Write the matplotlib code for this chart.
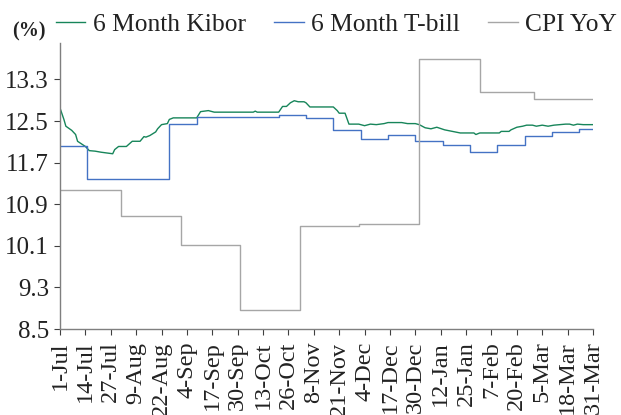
import pandas as pd
import matplotlib.pyplot as plt
import matplotlib.dates as mdates

# 6 month Kibor (%)
kibor_dates = ['2018-07-01', '2018-07-03', '2018-07-04', '2018-07-07', '2018-07-09', '2018-07-10',
               '2018-07-12', '2018-07-14', '2018-07-16', '2018-07-19', '2018-07-22', '2018-07-26',
               '2018-07-28', '2018-07-29', '2018-07-31', '2018-08-04', '2018-08-07', '2018-08-11',
               '2018-08-13', '2018-08-14', '2018-08-16', '2018-08-19', '2018-08-20', '2018-08-22',
               '2018-08-25', '2018-08-26', '2018-08-28', '2018-09-09', '2018-09-11', '2018-09-15',
               '2018-09-18', '2018-10-08', '2018-10-09', '2018-10-10', '2018-10-21', '2018-10-23',
               '2018-10-25', '2018-10-27', '2018-10-29', '2018-10-31', '2018-11-03', '2018-11-04',
               '2018-11-06', '2018-11-18', '2018-11-20', '2018-11-21', '2018-11-24', '2018-11-26',
               '2018-12-01', '2018-12-04', '2018-12-07', '2018-12-10', '2018-12-14', '2018-12-16',
               '2018-12-23', '2018-12-26', '2018-12-30', '2019-01-01', '2019-01-04', '2019-01-07',
               '2019-01-10', '2019-01-14', '2019-01-18', '2019-01-22', '2019-01-29', '2019-01-30',
               '2019-02-01', '2019-02-11', '2019-02-12', '2019-02-16', '2019-02-17', '2019-02-20',
               '2019-02-23', '2019-02-25', '2019-02-28', '2019-03-02', '2019-03-05', '2019-03-08',
               '2019-03-11', '2019-03-17', '2019-03-19', '2019-03-21', '2019-03-23', '2019-03-26',
               '2019-03-31']
kibor_vals = [12.75, 12.53, 12.40, 12.32, 12.24, 12.11,
              12.06, 12.01, 11.93, 11.92, 11.90, 11.88,
              11.87, 11.95, 12.01, 12.01, 12.11, 12.11,
              12.20, 12.19, 12.22, 12.29, 12.35, 12.43,
              12.45, 12.53, 12.56, 12.56, 12.68, 12.70,
              12.67, 12.67, 12.69, 12.67, 12.67, 12.78,
              12.78, 12.85, 12.89, 12.87, 12.87, 12.85,
              12.77, 12.77, 12.70, 12.65, 12.65, 12.44,
              12.44, 12.41, 12.44, 12.43, 12.45, 12.47,
              12.47, 12.45, 12.45, 12.43, 12.37, 12.35,
              12.38, 12.33, 12.30, 12.27, 12.27, 12.24,
              12.27, 12.27, 12.30, 12.30, 12.33, 12.38,
              12.40, 12.42, 12.42, 12.40, 12.42, 12.40,
              12.42, 12.44, 12.44, 12.42, 12.44, 12.43,
              12.43]

# 6 month T-bill cut-off yields, fortnightly auctions (%)
tbill_dates = ['2018-07-01', '2018-07-15', '2018-07-29', '2018-08-12', '2018-08-26', '2018-09-09',
               '2018-09-23', '2018-10-07', '2018-10-21', '2018-11-04', '2018-11-18', '2018-12-02',
               '2018-12-16', '2018-12-30', '2019-01-13', '2019-01-27', '2019-02-10', '2019-02-24',
               '2019-03-10', '2019-03-24', '2019-03-31']
tbill_vals = [12.01, 11.38, 11.38, 11.38, 12.45, 12.58,
              12.58, 12.58, 12.62, 12.56, 12.32, 12.16,
              12.23, 12.12, 12.03, 11.90, 12.03, 12.22,
              12.28, 12.35, 12.35]

# CPI YoY, monthly (%)
cpi_dates = ['2018-07-01', '2018-08-01', '2018-09-01', '2018-10-01', '2018-11-01',
             '2018-12-01', '2019-01-01', '2019-02-01', '2019-03-01', '2019-03-31']
cpi_vals = [11.17, 10.68, 10.11, 8.87, 10.49, 10.52, 13.69, 13.05, 12.92, 12.92]

tick_labels = ['1-Jul', '14-Jul', '27-Jul', '9-Aug', '22-Aug', '4-Sep', '17-Sep', '30-Sep',
               '13-Oct', '26-Oct', '8-Nov', '21-Nov', '4-Dec', '17-Dec', '30-Dec', '12-Jan',
               '25-Jan', '7-Feb', '20-Feb', '5-Mar', '18-Mar', '31-Mar']
y_ticks = [8.5, 9.3, 10.1, 10.9, 11.7, 12.5, 13.3]

plt.rcParams['font.family'] = ['Liberation Serif', 'DejaVu Serif']

fig = plt.figure(figsize=(6.21, 4.15), dpi=100)
ax = fig.add_axes([60 / 621, 86 / 415, 533 / 621, 286 / 415])

ax.plot(pd.to_datetime(kibor_dates), kibor_vals, color='#17855a', lw=1.0, label='6 Month Kibor')
ax.plot(pd.to_datetime(tbill_dates), tbill_vals, color='#4472c4', lw=1.0,
        drawstyle='steps-post', label='6 Month T-bill')
ax.plot(pd.to_datetime(cpi_dates), cpi_vals, color='#a6a6a6', lw=1.0,
        drawstyle='steps-post', label='CPI YoY')

start, end = pd.Timestamp('2018-07-01'), pd.Timestamp('2019-03-31')
ax.set_xlim(start, end)
ax.set_ylim(8.5, 14.0)
ax.set_yticks(y_ticks)
ax.set_yticklabels([f'{v:.1f}' for v in y_ticks])
ax.set_xticks(pd.date_range(start, end, freq='13D'))
ax.set_xticklabels(tick_labels, rotation=90)

for s in ['top', 'right']:
    ax.spines[s].set_visible(False)
for s in ['left', 'bottom']:
    ax.spines[s].set_color('#7f7f7f')
    ax.spines[s].set_linewidth(1.0)
ax.tick_params(axis='both', direction='out', length=4, width=0.8, color='#404040',
               labelsize=18, labelcolor='#222222')
ax.tick_params(axis='x', pad=5, labelsize=17.5)
ax.tick_params(axis='y', pad=4)

fig.text(12 / 621, 1 - 31 / 415, '(%)', fontsize=14.5, fontweight='bold', va='center', ha='left',
         color='#222222')
leg = fig.legend(loc='center left', bbox_to_anchor=(56 / 621, 1 - 25 / 415), ncol=3,
                 frameon=False, fontsize=18.4, handlelength=1.15, handletextpad=0.3,
                 columnspacing=1.1, borderaxespad=0, borderpad=0)
for t in leg.get_texts():
    t.set_color('#222222')

fig.savefig('out.png', dpi=100)
